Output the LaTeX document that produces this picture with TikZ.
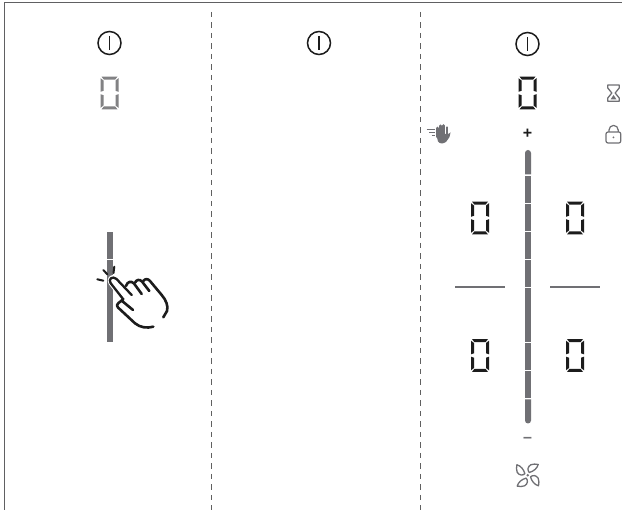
\documentclass[tikz,border=0pt]{standalone}
\usepackage{fontspec}
\setmainfont{Liberation Sans}
\usepackage{xcolor}
\definecolor{panelgrey}{RGB}{112,112,116}
\definecolor{framegrey}{RGB}{96,96,98}
\definecolor{litgrey}{RGB}{130,130,132}
\definecolor{inkdark}{RGB}{28,28,28}
\tikzset{
  framelink/.style={draw=framegrey,line width=1.3pt},
  sepline/.style={draw=inkdark!70,line width=0.9pt,dash pattern=on 5.5pt off 5pt},
  powerring/.style={circle,draw=inkdark,line width=1.5pt,minimum size=23pt,inner sep=0pt,outer sep=0pt},
  slidebar/.style={fill=panelgrey},
  splitline/.style={draw=panelgrey,line width=1.4pt},
  handline/.style={draw=inkdark,line width=2.6pt,line cap=round,line join=round},
  iconline/.style={draw=panelgrey,line width=1pt,line join=round},
  signnode/.style={font=\bfseries\fontsize{16}{16}\selectfont,inner sep=0pt}
}
\newcommand{\segzero}[3]{
  \begin{scope}[shift={(#1,#2)}]
    \foreach \sx/\sy in {1/1,-1/1,1/-1,-1/-1}
      \fill[#3,xscale=\sx,yscale=\sy] (6,-12.5) -- (9,-14.8) -- (9,-1.2) -- (6,-2.2) -- cycle;
    \foreach \sy in {1,-1}
      \fill[#3,yscale=\sy] (-8,-16.4) -- (8,-16.4) -- (5.6,-13.4) -- (-5.6,-13.4) -- cycle;
  \end{scope}
}
\newcommand{\powericon}[2]{
  \node[powerring] (#1) at (#2) {};
  \draw[draw=inkdark,line width=1.2pt] ([yshift=7pt]#1.center) -- ([yshift=-7pt]#1.center);
}
\begin{document}
\begin{tikzpicture}[x=1pt,y=-1pt]
  \useasboundingbox (0,0) rectangle (622,510);
  \fill[white] (0,0) rectangle (622,510);
  \coordinate (frametl) at (4.7,2.5);
  \coordinate (frametr) at (622,2.5);
  \coordinate (framebl) at (4.7,510);
  \draw[framelink] (framebl) -- (frametl) -- (frametr);
  \coordinate (sepatop) at (211,12);
  \coordinate (sepabot) at (211,510);
  \coordinate (sepbtop) at (420,12);
  \coordinate (sepbbot) at (420,510);
  \draw[sepline] (sepatop) -- (sepabot);
  \draw[sepline] (sepbtop) -- (sepbbot);

  \powericon{powerl}{109.5,43}
  \powericon{powerm}{319,43}
  \powericon{powerr}{527.5,44}

  \segzero{109.5}{93}{litgrey}
  \segzero{527.5}{93}{inkdark}
  \segzero{480}{218}{inkdark}
  \segzero{575}{218}{inkdark}
  \segzero{480}{355.5}{inkdark}
  \segzero{575}{355.5}{inkdark}

  \draw[splitline] (455,287) -- (505,287);
  \draw[splitline] (550,287) -- (600,287);

  \fill[slidebar] (525,174.3) -- (525,153) arc[start angle=180,end angle=360,radius=3] -- (531,174.3) -- cycle;
  \foreach \ya/\yb in {176/203,204/231,232/259,260/287,288/342,343/370,371/398}
    \fill[slidebar] (525,\ya) rectangle (531,\yb);
  \fill[slidebar] (525,399.5) -- (525,420.5) arc[start angle=180,end angle=0,radius=3] -- (531,399.5) -- cycle;
  \node[signnode,text=inkdark] (plussign) at (527.5,133.5) {+};
  \node[signnode,text=panelgrey] (minussign) at (527.5,440) {–};

  \fill[slidebar] (107,232) rectangle (113,259);
  \fill[slidebar] (107,260) rectangle (113,342);
  \draw[white,line width=5pt,line cap=round,line join=round] (123.3,299.3) -- (111,283) .. controls (108.5,279.5) and (112,275.5) .. (116,278.5) -- (131.7,295);
  \draw[handline,line width=2.3pt] (123.3,299.3) -- (110.5,283) .. controls (108,279) and (112.5,275.5) .. (116.5,279) -- (131.7,295);
  \draw[handline] (126,286) .. controls (127.5,281.5) and (131,280.5) .. (134,283.5) -- (141.7,294);
  \draw[handline] (135,282.7) .. controls (136.5,279.5) and (139.5,279) .. (142,281.5) -- (149.3,291);
  \draw[handline] (143.3,281) .. controls (145,278.5) and (148,278.5) .. (150,281) -- (161.7,295) .. controls (166,300) and (168.5,306) .. (167,311) -- (163.3,317.3);
  \draw[handline] (123.3,299.3) -- (118.5,303) .. controls (116.5,304.5) and (116.5,306) .. (118,307.5) -- (135,323.3) .. controls (140,327.5) and (147,328.5) .. (153.3,326.7);
  \draw[handline] (121.5,300.5) -- (133,310);
  \draw[handline,line width=2pt] (97.3,279.3) -- (103.3,280.7);
  \draw[handline,line width=2pt] (103.3,270) -- (107.5,274.5);
  \draw[handline,line width=2pt] (114.3,266.7) -- (113.5,273);

  \draw[draw=panelgrey,line width=1pt] (426.7,129.3) -- (435,129.3);
  \draw[draw=panelgrey,line width=1pt] (429.3,132.7) -- (435,132.7);
  \draw[draw=panelgrey,line width=1pt] (431.7,135.7) -- (435,135.7);
  \foreach \xf/\yf in {437.5/128,440.5/125.8,443.7/125.5,446.8/127.5}
    \draw[draw=panelgrey,line width=2.6pt,line cap=round] (\xf,\yf) -- (\xf,137);
  \fill[panelgrey] (436.2,134) -- (448.2,134) -- (450.5,132.5) -- (449.5,137) -- (446,142) .. controls (443,144) and (440,144) .. (438,141.5) -- cycle;

  \draw[iconline,line width=1.3pt] (607.8,85) -- (619.2,85) -- (619.2,88) -- (615.2,93) -- (619.2,98) -- (619.2,101.2) -- (607.8,101.2) -- (607.8,98) -- (611.8,93) -- (607.8,88) -- cycle;
  \fill[panelgrey] (613.5,95) -- (616.5,99.5) -- (610.5,99.5) -- cycle;

  \draw[iconline,line width=1.2pt,rounded corners=2pt] (606,132) rectangle (620.8,143);
  \draw[iconline,line width=1.2pt] (609,132) -- (609,130) arc[start angle=180,end angle=360,radius=4.6] -- (618.2,132);
  \fill[panelgrey] (613.4,137.4) circle[radius=1pt];

  \begin{scope}[shift={(527.7,475.3)}]
    \fill[panelgrey] (0,0) circle[radius=1.4pt];
    \foreach \ang in {0,90,180,270}
      \draw[iconline,line width=1.3pt,rotate=\ang] (1.6,-2.8) .. controls (-0.5,-5) and (-0.2,-8.5) .. (3,-10.5) .. controls (5.5,-11.5) and (8,-11.3) .. (10.5,-10.8) .. controls (9.5,-7) and (6,-4) .. (1.6,-2.8) -- cycle;
  \end{scope}
\end{tikzpicture}
\end{document}
